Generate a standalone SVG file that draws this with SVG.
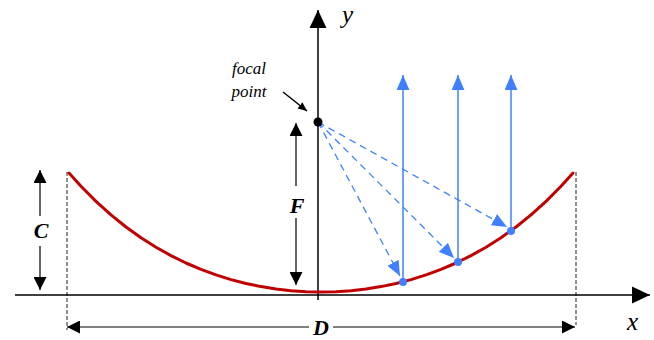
<svg xmlns="http://www.w3.org/2000/svg" width="654" height="340" viewBox="0 0 654 340">
<style>
.ax{stroke:#000;stroke-width:1.5;fill:none}
.dim{stroke:#000;stroke-width:1.2;fill:none}
.guide{stroke:#222;stroke-width:1;stroke-dasharray:4 2;fill:none}
.curve{stroke:#c00000;stroke-width:3;fill:none;stroke-linejoin:round;stroke-linecap:round}
.ray{stroke:#4080ff;stroke-width:1.5;fill:none}
.dash{stroke:#4080ff;stroke-width:1.3;stroke-dasharray:7 5;fill:none}
.bdot{fill:#4080ff}
.lab{font-family:"Liberation Serif","Times New Roman",serif;font-style:italic;fill:#000}
.big{font-family:"Liberation Serif","Times New Roman",serif;font-style:italic;font-weight:bold;font-size:22px;fill:#000;text-anchor:middle}
</style>
<defs>
<marker id="axA" markerUnits="userSpaceOnUse" markerWidth="18" markerHeight="18" viewBox="0 0 17 16" refX="17" refY="8" orient="auto"><path d="M0,0 L17,8 L0,16 Z" fill="#000"/></marker>
<marker id="dimA" markerUnits="userSpaceOnUse" markerWidth="13" markerHeight="13" viewBox="0 0 12 12" refX="12" refY="6" orient="auto-start-reverse"><path d="M0,0 L12,6 L0,12 Z" fill="#000"/></marker>
<marker id="blA" markerUnits="userSpaceOnUse" markerWidth="15" markerHeight="13" viewBox="0 0 14 12" refX="14" refY="6" orient="auto"><path d="M0,0 L14,6 L0,12 Z" fill="#4080ff"/></marker>
<marker id="smA" markerUnits="userSpaceOnUse" markerWidth="9" markerHeight="8" viewBox="0 0 8 7" refX="8" refY="3.5" orient="auto"><path d="M0,0 L8,3.5 L0,7 Z" fill="#000"/></marker>
</defs>

<g id="guides">
<line class="guide" x1="67" y1="172" x2="67" y2="330"/>
<line class="guide" x1="576" y1="172" x2="576" y2="325"/>
</g>

<g id="axes">
<line class="ax" x1="15" y1="295" x2="650" y2="295" marker-end="url(#axA)"/>
<line class="ax" x1="318" y1="300" x2="318" y2="10" marker-end="url(#axA)"/>
<text class="lab" x="342" y="23" font-size="25">y</text>
<text class="lab" x="627" y="330" font-size="25">x</text>
</g>

<g id="reflector">
<path class="curve" d="M69,173 L81,186.3 L96,201.4 L111,214.9 L126,227 L141,237.7 L156,247.2 L171,255.6 L186,263 L201,269.4 L216,274.9 L231,279.6 L246,283.5 L261,286.6 L276,289 L291,290.7 L306,291.7 L321,292 L336,291.7 L351,290.7 L366,289 L381,286.6 L396,283.5 L411,279.6 L426,274.9 L441,269.4 L456,263 L471,255.6 L486,247.2 L501,237.7 L516,227 L531,214.9 L546,201.4 L561,186.3 L573,173"/>
</g>

<g id="connectors">
<line class="dash" x1="318" y1="122" x2="400" y2="276" marker-end="url(#blA)"/>
<line class="dash" x1="318" y1="122" x2="454" y2="258" marker-end="url(#blA)"/>
<line class="dash" x1="318" y1="122" x2="507" y2="227" marker-end="url(#blA)"/>
<line class="ray" x1="403" y1="282" x2="403" y2="75" marker-end="url(#blA)"/>
<line class="ray" x1="458" y1="262" x2="458" y2="75" marker-end="url(#blA)"/>
<line class="ray" x1="511" y1="231" x2="511" y2="75" marker-end="url(#blA)"/>
<line class="ax" x1="283" y1="92" x2="307" y2="111" stroke-width="1.2" marker-end="url(#smA)"/>
</g>

<g id="reflection-points">
<circle class="bdot" cx="403" cy="282" r="4"/>
<circle class="bdot" cx="458" cy="262" r="4"/>
<circle class="bdot" cx="511" cy="231" r="4"/>
</g>

<g id="focal-point">
<circle cx="318" cy="122" r="4.5" fill="#000"/>
<text class="lab" x="249" y="74" font-size="17" text-anchor="middle">focal</text>
<text class="lab" x="249" y="97" font-size="17" text-anchor="middle">point</text>
</g>

<g id="dim-C">
<line class="dim" x1="40" y1="216" x2="40" y2="170" marker-end="url(#dimA)"/>
<line class="dim" x1="40" y1="246" x2="40" y2="290" marker-end="url(#dimA)"/>
<text class="big" x="41" y="238">C</text>
</g>

<g id="dim-F">
<line class="dim" x1="296" y1="186" x2="296" y2="123" marker-end="url(#dimA)"/>
<line class="dim" x1="296" y1="218" x2="296" y2="285" marker-end="url(#dimA)"/>
<text class="big" x="297" y="213">F</text>
</g>

<g id="dim-D">
<line class="dim" x1="309" y1="327" x2="67" y2="327" marker-end="url(#dimA)"/>
<line class="dim" x1="333" y1="327" x2="575" y2="327" marker-end="url(#dimA)"/>
<text class="big" x="321" y="335">D</text>
</g>
</svg>
